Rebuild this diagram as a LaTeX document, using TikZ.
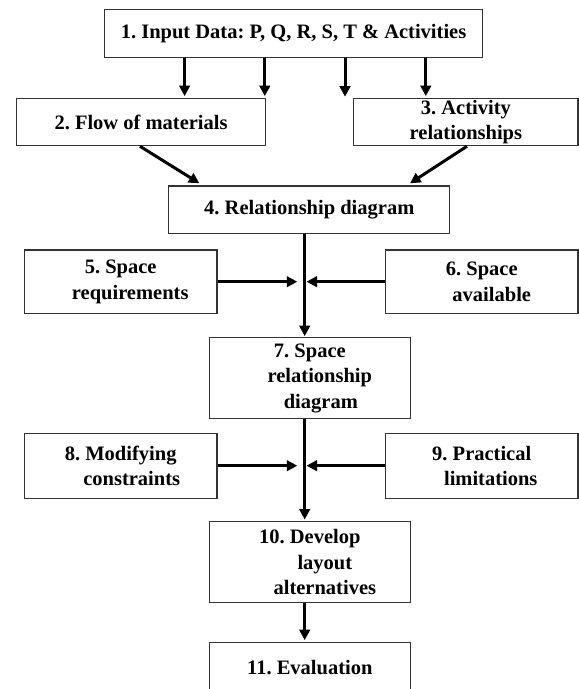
\documentclass[tikz,border=0pt]{standalone}
\usepackage{fontspec}
\setmainfont{Liberation Serif}
\usetikzlibrary{arrows.meta}
\begin{document}
\frenchspacing
\begin{tikzpicture}[x=1pt,y=-1pt,
  box/.style={draw=black!80, line width=1.1pt, inner sep=0pt, align=center,
    font=\bfseries\fontsize{20.5}{25.5}\selectfont},
  arr/.style={line width=3pt, -{Triangle[length=10.5pt,width=10.5pt]}}]
\useasboundingbox (0,0) rectangle (579,689);
\clip (0,0) rectangle (579,689);
\fill[white] (0,0) rectangle (579,689);

\node[box, minimum width=378.1pt, minimum height=48pt] (b1) at (293.55,33.3) {1. Input Data: P, Q, R, S, T \& Activities};
\node[box, minimum width=249.7pt, minimum height=47.4pt] (b2) at (141.05,122) {2. Flow of materials};
\node[box, minimum width=224.2pt, minimum height=47.4pt] (b3) at (465.9,122) {3. Activity\\relationships};
\node[box, minimum width=281pt, minimum height=47.3pt] (b4) at (309.3,209.65) {4. Relationship diagram};
\node[box, minimum width=192.6pt, minimum height=63.3pt] (b5) at (120.7,281.65) {5. Space\\\hspace*{19pt}requirements};
\node[box, minimum width=192.5pt, minimum height=63.3pt] (b6) at (481.75,281.65) {6. Space\\\hspace*{20pt}available};
\node[box, minimum width=200.9pt, minimum height=80.6pt] (b7) at (309.85,378) {7. Space\\\hspace*{20pt}relationship\\\hspace*{22pt}diagram};
\node[box, minimum width=192.6pt, minimum height=65pt] (b8) at (120.7,465.8) {8. Modifying\\\hspace*{22pt}constraints};
\node[box, minimum width=192.5pt, minimum height=65pt] (b9) at (481.75,465.8) {9. Practical\\\hspace*{18pt}limitations};
\node[box, minimum width=200.9pt, minimum height=81pt] (b10) at (309.85,562.2) {10. Develop\\\hspace*{30pt}layout\\\hspace*{30pt}alternatives};
\node[box, minimum width=200.9pt, minimum height=51.4pt] (b11) at (309.85,668) {11. Evaluation};

% arrows from box 1
\coordinate (a1) at (184.6,0);
\coordinate (a2) at (264.8,0);
\coordinate (a3) at (345,96.7);
\coordinate (a4) at (425.8,0);
\draw[arr, shorten >=1.6pt] (b1.south -| a1) -- (b2.north -| a1);
\draw[arr, shorten >=1.6pt] (b1.south -| a2) -- (b2.north -| a2);
\draw[arr] (b1.south -| a3) -- (a3);
\draw[arr, shorten >=1.6pt] (b1.south -| a4) -- (b3.north -| a4);

% diagonal arrows
\coordinate (s2) at (140,0);
\coordinate (t2) at (199.4,183.3);
\coordinate (s3) at (467,0);
\coordinate (t3) at (410,183.3);
\draw[arr] (b2.south -| s2) -- (t2);
\draw[arr] (b3.south -| s3) -- (t3);

% spine
\coordinate (sp) at (304.7,0);
\draw[arr, shorten >=1pt] (b4.south -| sp) -- (b7.north -| sp);
\draw[arr, shorten >=1.6pt] (b7.south -| sp) -- (b10.north -| sp);
\draw[arr, shorten >=1.6pt] (b10.south -| sp) -- (b11.north -| sp);

% side inputs
\coordinate (h5) at (297.3,281.7);
\coordinate (h6) at (306.5,281.7);
\coordinate (h8) at (297.3,465.7);
\coordinate (h9) at (306.5,465.7);
\draw[arr] (b5.east |- h5) -- (h5);
\draw[arr] (b6.west |- h6) -- (h6);
\draw[arr] (b8.east |- h8) -- (h8);
\draw[arr] (b9.west |- h9) -- (h9);
\end{tikzpicture}
\end{document}
